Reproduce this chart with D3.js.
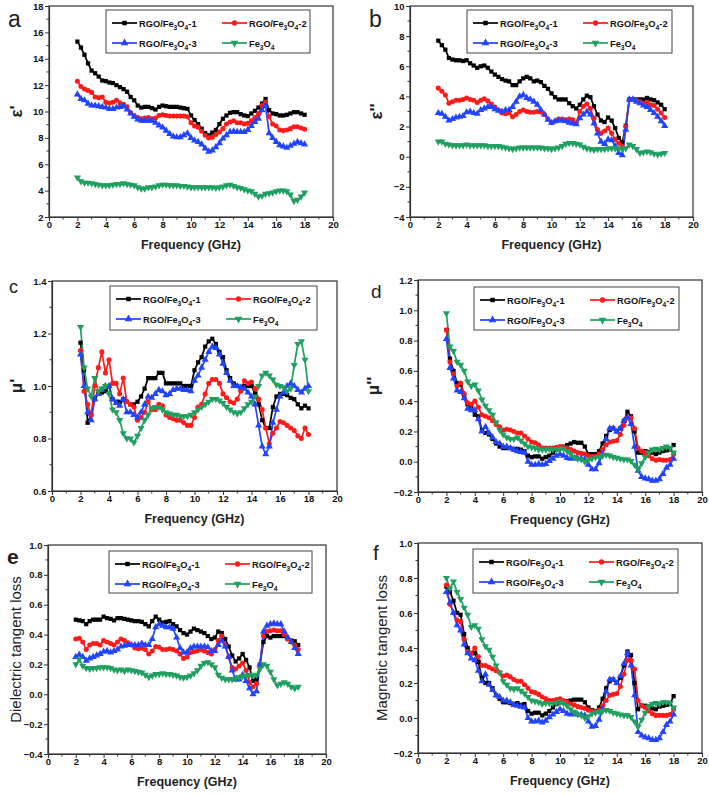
<!DOCTYPE html>
<html><head><meta charset="utf-8">
<script src="https://cdn.jsdelivr.net/npm/d3@7"></script>
<style>
html,body{margin:0;padding:0;background:#fff;}
svg text{font-family:"Liberation Sans",Arial,sans-serif;}
</style></head>
<body><svg id="c" width="709" height="795"></svg>
<script>
const freq = [2,2.25,2.5,2.75,3,3.25,3.5,3.75,4,4.25,4.5,4.75,5,5.25,5.5,5.75,6,6.25,6.5,6.75,7,7.25,7.5,7.75,8,8.25,8.5,8.75,9,9.25,9.5,9.75,10,10.25,10.5,10.75,11,11.25,11.5,11.75,12,12.25,12.5,12.75,13,13.25,13.5,13.75,14,14.25,14.5,14.75,15,15.25,15.5,15.75,16,16.25,16.5,16.75,17,17.25,17.5,17.75,18];
const seriesNames = ["RGO/Fe3O4-1","RGO/Fe3O4-2","RGO/Fe3O4-3","Fe3O4"];
const xTicks = [0,2,4,6,8,10,12,14,16,18,20];

// (a) epsilon'
const aR1 = [15.3,14.85,14.3,13.65, 13.1,12.9,12.65,12.35, 12.3,12.2,12.15,12.0, 11.85,11.7,11.5,11.1, 10.85,10.45,10.3,10.35, 10.35,10.25,10.15,10.35, 10.45,10.4,10.35,10.35, 10.35,10.3,10.25,10.2, 9.7,9.35,9.05,8.7, 8.35,8.2,8.4,8.6, 9.05,9.45,9.7,9.9, 9.95,9.95,9.8,9.7, 9.65,9.85,10.05,10.3, 10.6,10.95,10.1,9.85, 9.8,9.7,9.7,9.75, 9.85,9.95,9.95,9.85, 9.75];
const aR2 = [12.3,11.9,11.7,11.6, 11.45,11.1,11.05,11.1, 10.7,10.65,10.7,10.85, 10.65,10.55,10.35,9.9, 9.7,9.55,9.45,9.5, 9.55,9.45,9.5,9.7, 9.75,9.7,9.65,9.65, 9.65,9.65,9.65,9.6, 9.15,8.9,8.8,8.5, 8.2,8.0,8.05,8.25, 8.45,8.7,9.05,9.2, 9.3,9.15,9.15,9.05, 9.1,9.3,9.55,9.85, 10.45,10.7,9.6,9.05, 8.9,8.6,8.55,8.6, 8.7,8.85,8.85,8.75, 8.65];
const aR3 = [11.3,10.95,10.85,10.6, 10.45,10.45,10.4,10.35, 10.3,10.2,10.2,10.3, 10.35,10.4,10.15,9.85, 9.6,9.4,9.3,9.3, 9.3,9.3,9.15,8.95, 8.8,8.55,8.3,8.1, 8.05,8.05,8.2,8.35, 8.0,7.8,7.7,7.5, 7.2,6.95,7.05,7.3, 7.6,7.95,8.2,8.45, 8.5,8.45,8.45,8.45, 8.6,8.9,9.2,9.45, 10.1,10.45,8.35,8.0, 7.7,7.45,7.35,7.25, 7.4,7.55,7.7,7.6, 7.5];
const aFe = [5.0,4.7,4.6,4.6, 4.55,4.5,4.45,4.4, 4.4,4.4,4.45,4.5, 4.5,4.55,4.5,4.45, 4.4,4.25,4.15,4.15, 4.25,4.25,4.3,4.4, 4.45,4.45,4.4,4.4, 4.4,4.35,4.35,4.3, 4.25,4.25,4.25,4.25, 4.25,4.25,4.25,4.2, 4.25,4.3,4.4,4.45, 4.35,4.25,4.2,4.1, 4.0,3.95,3.75,3.55, 3.6,3.75,3.8,3.85, 3.95,4.0,4.0,3.95, 3.7,3.2,3.3,3.55, 3.85];

// (b) epsilon''
const bR1 = [7.7,7.4,7.1,6.55, 6.45,6.4,6.4,6.35, 6.4,6.2,6.05,5.9, 6.0,6.05,5.9,5.65, 5.45,5.3,5.15,5.05, 5.0,4.75,4.75,5.0, 5.2,5.3,5.2,5.0, 5.05,4.95,4.7,4.5, 4.2,3.95,3.8,3.8, 3.8,3.55,3.35,3.2, 3.45,3.8,4.05,3.95, 3.35,2.8,2.4,2.3, 2.6,2.4,1.9,1.25, 0.95,2.05,3.8,3.8, 3.8,3.8,3.8,3.9, 3.8,3.75,3.6,3.45, 3.15];
const bR2 = [4.55,4.35,4.1,3.55, 3.65,3.75,3.75,3.8, 3.9,3.8,3.75,3.6, 3.75,3.85,3.7,3.5, 3.3,3.1,2.9,2.85, 2.9,2.65,2.8,3.0, 3.1,3.0,2.95,2.95, 3.0,2.95,2.8,2.5, 2.25,2.35,2.5,2.5, 2.45,2.5,2.45,2.25, 3.0,3.35,3.5,3.2, 2.55,1.8,1.55,1.7, 1.9,1.55,1.15,0.9, 0.7,2.0,3.8,3.8, 3.75,3.65,3.55,3.6, 3.45,3.4,3.15,2.9, 2.6];
const bR3 = [2.9,2.85,2.65,2.4, 2.5,2.6,2.65,2.7, 2.95,3.0,2.9,2.85, 3.1,3.2,3.3,3.3, 3.15,3.05,3.0,3.1, 3.1,3.3,3.65,4.0, 4.1,3.9,3.8,3.65, 3.45,3.1,2.8,2.45, 2.25,2.35,2.4,2.4, 2.35,2.25,2.2,2.15, 2.55,2.8,3.0,2.8, 2.2,1.55,1.0,0.85, 1.15,1.1,0.7,0.25, 0.1,1.8,3.8,3.8, 3.65,3.55,3.4,3.3, 3.1,2.9,2.65,2.35, 2.05];
const bFe = [1.0,1.0,0.85,0.8, 0.75,0.75,0.75,0.75, 0.8,0.75,0.75,0.75, 0.75,0.75,0.7,0.7, 0.7,0.7,0.65,0.6, 0.55,0.5,0.55,0.6, 0.6,0.6,0.6,0.6, 0.6,0.6,0.55,0.55, 0.5,0.55,0.6,0.7, 0.85,0.9,0.9,0.85, 0.8,0.65,0.55,0.5, 0.45,0.5,0.5,0.5, 0.55,0.55,0.55,0.55, 0.5,0.55,0.8,0.7, 0.5,0.25,0.3,0.35, 0.3,0.2,0.15,0.2, 0.25];

// (c) mu'
const cR1 = [1.165,1.06,0.86,0.89, 0.95,0.97,0.975,0.98, 1.0,0.95,0.94,0.94, 0.95,0.94,0.93,0.93, 0.94,0.96,0.99,1.03, 1.03,1.03,1.05,1.05, 1.01,1.01,1.01,1.01, 1.01,1.0,1.0,1.0, 1.06,1.09,1.11,1.15, 1.17,1.18,1.16,1.13, 1.11,1.06,1.03,1.01, 1.0,0.99,1.0,1.0, 1.0,0.97,0.93,0.87, 0.84,0.84,0.92,0.96, 0.97,0.97,0.965,0.955, 0.95,0.93,0.915,0.925, 0.915];
const cR2 = [1.135,0.98,0.93,0.89, 1.0,1.07,1.13,1.05, 1.1,1.01,1.01,0.97, 1.03,0.94,0.93,0.92, 0.87,0.88,0.9,0.94, 0.91,0.91,0.93,0.925, 0.89,0.88,0.875,0.87, 0.87,0.86,0.85,0.85, 0.88,0.92,0.93,0.97, 1.01,1.025,1.025,1.01, 0.97,0.955,0.94,0.935, 0.95,0.98,1.02,1.01, 1.015,0.99,0.95,0.91, 0.84,0.78,0.82,0.84, 0.865,0.86,0.85,0.84, 0.83,0.81,0.8,0.84, 0.815];
const cR3 = [1.12,1.0,0.9,0.87, 0.95,0.97,0.985,1.0, 1.0,0.95,0.935,0.925, 0.95,0.9,0.9,0.89, 0.88,0.9,0.93,0.96, 0.955,0.97,0.985,0.98, 0.965,0.97,0.985,0.99, 0.99,0.985,0.985,0.98, 1.02,1.04,1.07,1.1, 1.13,1.15,1.145,1.12, 1.085,1.05,1.02,1.0, 1.0,0.995,0.99,0.975, 0.96,0.93,0.85,0.77, 0.74,0.77,0.86,0.91, 0.96,0.975,1.0,1.01, 1.0,0.985,0.975,0.99, 1.0];
const cFe = [1.225,1.07,0.99,0.96, 1.03,0.98,0.99,1.0, 0.97,0.91,0.9,0.87, 0.82,0.8,0.8,0.785, 0.81,0.84,0.87,0.89, 0.915,0.92,0.92,0.91, 0.9,0.895,0.89,0.89, 0.885,0.885,0.885,0.89, 0.9,0.91,0.92,0.93, 0.94,0.95,0.95,0.945, 0.935,0.92,0.91,0.9, 0.895,0.9,0.915,0.93, 0.94,0.96,1.0,1.04, 1.05,1.04,1.025,1.005, 1.0,0.995,0.98,0.99, 1.08,1.16,1.17,1.1, 0.98];

// (d) mu''
const dR1 = [0.87,0.68,0.6,0.52, 0.51,0.44,0.38,0.36, 0.31,0.3,0.21,0.19, 0.18,0.15,0.12,0.1, 0.09,0.09,0.09,0.08, 0.085,0.08,0.07,0.04, 0.03,0.035,0.035,0.02, 0.03,0.04,0.06,0.08, 0.09,0.1,0.11,0.12, 0.13,0.125,0.125,0.1, 0.05,0.05,0.05,0.07, 0.12,0.17,0.21,0.22, 0.2,0.22,0.27,0.33, 0.3,0.2,0.06,0.06, 0.07,0.065,0.06,0.05, 0.06,0.07,0.075,0.08, 0.11];
const dR2 = [0.87,0.66,0.58,0.5, 0.52,0.45,0.39,0.38, 0.4,0.36,0.31,0.3, 0.29,0.27,0.245,0.23, 0.21,0.215,0.21,0.2, 0.19,0.19,0.17,0.15, 0.13,0.125,0.11,0.09, 0.09,0.09,0.09,0.095, 0.1,0.095,0.09,0.08, 0.07,0.06,0.055,0.05, 0.04,0.035,0.035,0.05, 0.08,0.11,0.13,0.135, 0.14,0.18,0.24,0.29, 0.29,0.22,0.09,0.07, 0.06,0.04,0.02,0.01, 0.015,0.01,0.01,0.015, 0.05];
const dR3 = [0.81,0.62,0.55,0.47, 0.46,0.42,0.35,0.34, 0.34,0.28,0.2,0.23, 0.19,0.16,0.13,0.12, 0.1,0.1,0.09,0.08, 0.07,0.065,0.06,0.0, -0.02,-0.02,-0.015,-0.02, -0.015,0.005,0.02,0.04, 0.05,0.04,0.025,0.02, 0.025,0.02,0.02,0.015, -0.02,-0.05,-0.05,-0.01, 0.05,0.15,0.22,0.22, 0.2,0.22,0.27,0.29, 0.25,0.1,-0.06,-0.1, -0.11,-0.115,-0.125,-0.125, -0.115,-0.08,-0.04,-0.02, 0.02];
const dFe = [0.98,0.76,0.73,0.66, 0.64,0.6,0.53,0.5, 0.51,0.47,0.41,0.37, 0.34,0.31,0.26,0.21, 0.18,0.16,0.15,0.15, 0.16,0.14,0.12,0.1, 0.095,0.09,0.08,0.08, 0.08,0.085,0.08,0.08, 0.085,0.085,0.07,0.05, 0.03,0.02,0.015,0.0, 0.01,0.02,0.03,0.03, 0.04,0.045,0.04,0.03, 0.025,0.02,0.015,0.015, 0.005,-0.02,-0.05,-0.01, 0.03,0.06,0.08,0.085, 0.08,0.09,0.1,0.09, 0.06];

// (e) dielectric tangent loss
const eR1 = [0.5,0.495,0.49,0.47, 0.49,0.5,0.5,0.5, 0.52,0.51,0.505,0.495, 0.51,0.51,0.505,0.5, 0.495,0.49,0.49,0.485, 0.47,0.455,0.49,0.52, 0.5,0.48,0.485,0.49, 0.47,0.455,0.43,0.41, 0.4,0.42,0.44,0.43, 0.42,0.41,0.39,0.37, 0.38,0.42,0.41,0.37, 0.32,0.26,0.22,0.24, 0.27,0.23,0.18,0.09, 0.1,0.2,0.35,0.39, 0.38,0.39,0.39,0.39, 0.39,0.37,0.36,0.355, 0.33];
const eR2 = [0.37,0.375,0.35,0.3, 0.33,0.34,0.34,0.33, 0.36,0.35,0.34,0.33, 0.35,0.37,0.36,0.345, 0.33,0.31,0.305,0.31, 0.3,0.27,0.29,0.32, 0.315,0.3,0.3,0.305, 0.3,0.29,0.27,0.24, 0.25,0.28,0.285,0.29, 0.3,0.29,0.28,0.27, 0.3,0.36,0.39,0.33, 0.25,0.18,0.17,0.19, 0.21,0.16,0.08,0.05, 0.07,0.2,0.39,0.42, 0.425,0.43,0.425,0.425, 0.4,0.37,0.35,0.33, 0.3];
const eR3 = [0.25,0.265,0.25,0.225, 0.24,0.25,0.26,0.27, 0.285,0.29,0.28,0.29, 0.3,0.32,0.325,0.33, 0.33,0.33,0.33,0.34, 0.33,0.33,0.37,0.45, 0.47,0.46,0.45,0.45, 0.44,0.38,0.31,0.28, 0.28,0.31,0.32,0.32, 0.32,0.32,0.315,0.29, 0.29,0.33,0.36,0.32, 0.25,0.16,0.1,0.1, 0.13,0.09,0.04,0.0, 0.02,0.2,0.42,0.46, 0.47,0.475,0.47,0.47, 0.42,0.38,0.35,0.31, 0.27];
const eFe = [0.2,0.235,0.19,0.175, 0.17,0.175,0.175,0.18, 0.18,0.18,0.175,0.165, 0.16,0.165,0.155,0.165, 0.16,0.155,0.15,0.145, 0.13,0.115,0.125,0.135, 0.135,0.14,0.135,0.135, 0.13,0.125,0.115,0.11, 0.115,0.125,0.14,0.16, 0.19,0.21,0.215,0.2, 0.18,0.13,0.11,0.1, 0.1,0.1,0.105,0.115, 0.12,0.125,0.13,0.125, 0.13,0.17,0.2,0.19, 0.15,0.1,0.06,0.07, 0.08,0.07,0.05,0.04, 0.05];

// (f) magnetic tangent loss
const fR1 = [0.75,0.72,0.67,0.6, 0.59,0.48,0.4,0.37, 0.37,0.32,0.23,0.2, 0.2,0.17,0.13,0.11, 0.09,0.09,0.085,0.08, 0.085,0.075,0.08,0.04, 0.025,0.03,0.03,0.015, 0.025,0.04,0.06,0.08, 0.09,0.09,0.095,0.1, 0.105,0.105,0.105,0.09, 0.06,0.045,0.04,0.06, 0.11,0.17,0.21,0.22, 0.2,0.23,0.3,0.38, 0.36,0.2,0.05,0.07, 0.07,0.065,0.055,0.05, 0.065,0.07,0.075,0.08, 0.125];
const fR2 = [0.76,0.65,0.6,0.56, 0.55,0.45,0.38,0.37, 0.4,0.35,0.3,0.3, 0.29,0.28,0.27,0.26, 0.24,0.245,0.235,0.22, 0.21,0.21,0.19,0.17, 0.15,0.145,0.135,0.12, 0.11,0.1,0.1,0.105, 0.11,0.1,0.09,0.08, 0.075,0.065,0.06,0.055, 0.045,0.04,0.035,0.045, 0.07,0.1,0.13,0.135, 0.14,0.18,0.25,0.33, 0.33,0.28,0.1,0.07, 0.06,0.04,0.025,0.015, 0.015,0.015,0.015,0.02, 0.05];
const fR3 = [0.72,0.66,0.6,0.53, 0.5,0.42,0.37,0.34, 0.33,0.27,0.21,0.25, 0.19,0.16,0.13,0.12, 0.1,0.1,0.09,0.075, 0.07,0.065,0.06,0.0, -0.02,-0.02,-0.015,-0.025, -0.015,0.005,0.02,0.035, 0.05,0.04,0.025,0.02, 0.025,0.02,0.02,0.015, -0.02,-0.05,-0.045,-0.01, 0.05,0.15,0.22,0.22, 0.2,0.24,0.31,0.37, 0.3,0.13,-0.08,-0.1, -0.11,-0.115,-0.125,-0.125, -0.115,-0.08,-0.04,-0.02, 0.02];
const fFe = [0.8,0.74,0.78,0.72, 0.68,0.63,0.59,0.52, 0.53,0.51,0.45,0.41, 0.39,0.35,0.3,0.26, 0.21,0.19,0.17,0.165, 0.17,0.155,0.14,0.12, 0.1,0.095,0.09,0.08, 0.085,0.085,0.085,0.085, 0.09,0.085,0.07,0.05, 0.035,0.02,0.015,0.0, 0.01,0.025,0.03,0.035, 0.04,0.045,0.04,0.03, 0.025,0.02,0.015,0.015, 0.005,-0.02,-0.05,-0.01, 0.03,0.065,0.08,0.085, 0.08,0.09,0.09,0.085, 0.06];

const colors = ["#000000","#ff1a1a","#2244ff","#1fa060"];
const symbols = [d3.symbolSquare, d3.symbolCircle, d3.symbolTriangle, "down"];

const panels = [
  {letter:"a", lx:8, ly:27, lsize:23, x0:49, x1:333, y0:6, y1:217, ydom:[2,18], yticks:[2,4,6,8,10,12,14,16,18], fmt:d3.format("d"), data:[aR1,aR2,aR3,aFe], leg:[106,10,204,43], yt:"ε'", ytx:16, yts:17, ytb:true},
  {letter:"b", lx:369, ly:27, lsize:23, x0:410, x1:693, y0:6, y1:217, ydom:[-4,10], yticks:[-4,-2,0,2,4,6,8,10], fmt:d3.format("d"), data:[bR1,bR2,bR3,bFe], leg:[467,10,205,43], yt:"ε''", ytx:376, yts:17, ytb:true},
  {letter:"c", lx:9, ly:293, lsize:18, x0:52, x1:337, y0:281, y1:491, ydom:[0.6,1.4], yticks:[0.6,0.8,1.0,1.2,1.4], fmt:d3.format(".1f"), data:[cR1,cR2,cR3,cFe], leg:[110,286,207,44], yt:"μ'", ytx:16, yts:17, ytb:true},
  {letter:"d", lx:371, ly:298, lsize:19, x0:418, x1:702, y0:280, y1:492, ydom:[-0.2,1.2], yticks:[-0.2,0,0.2,0.4,0.6,0.8,1.0,1.2], fmt:d3.format(".1f"), data:[dR1,dR2,dR3,dFe], leg:[474,287,205,43], yt:"μ''", ytx:373, yts:17, ytb:true},
  {letter:"e", lx:7, ly:564, lsize:21, x0:48, x1:326, y0:545, y1:754, ydom:[-0.4,1.0], yticks:[-0.4,-0.2,0,0.2,0.4,0.6,0.8,1.0], fmt:d3.format(".1f"), data:[eR1,eR2,eR3,eFe], leg:[109,551,203,42], yt:"Dielectric tangent loss", ytx:15, yts:15, ytb:false, lbold:true},
  {letter:"f", lx:373, ly:560, lsize:21, x0:418, x1:702, y0:543, y1:753, ydom:[-0.2,1.0], yticks:[-0.2,0,0.2,0.4,0.6,0.8,1.0], fmt:d3.format(".1f"), data:[fR1,fR2,fR3,fFe], leg:[473,549,205,44], yt:"Magnetic tangent loss", ytx:381, yts:15, ytb:false}
];

const svg = d3.select("#c");
const axisColor = "#333";

function symPath(i, size){
  if (symbols[i] === "down") return d3.symbol().type(d3.symbolTriangle).size(size)();
  return d3.symbol().type(symbols[i]).size(size)();
}
function symTransform(i, x, y){
  return symbols[i] === "down" ? `translate(${x},${y}) rotate(180)` : `translate(${x},${y})`;
}
function labelText(sel, name, fs){
  const parts = [];
  if (name.startsWith("RGO/")) { parts.push(["RGO/Fe",0]); } else { parts.push(["Fe",0]); }
  parts.push(["3",1]); parts.push(["O",-1]); parts.push(["4",1]);
  const m = name.match(/-(\d)$/);
  if (m) parts.push(["-"+m[1],-1]);
  parts.forEach(([t,sub])=>{
    const ts = sel.append("tspan").text(t);
    if (sub===1) ts.attr("font-size", fs*0.72).attr("dy", 3);
    else if (sub===-1) ts.attr("dy", -3);
  });
}

panels.forEach(p=>{
  const g = svg.append("g");
  const x = d3.scaleLinear().domain([0,20]).range([p.x0,p.x1]);
  const y = d3.scaleLinear().domain(p.ydom).range([p.y1,p.y0]);

  g.append("rect").attr("x",p.x0).attr("y",p.y0).attr("width",p.x1-p.x0).attr("height",p.y1-p.y0)
    .attr("fill","none").attr("stroke",axisColor).attr("stroke-width",1.2);

  const xa = d3.axisBottom(x).tickValues(xTicks).tickSize(4).tickFormat(d3.format("d"));
  const gx = g.append("g").attr("transform",`translate(0,${p.y1})`).call(xa);
  gx.select(".domain").attr("stroke",axisColor).attr("stroke-width",1.2);
  gx.selectAll(".tick line").attr("stroke",axisColor).attr("stroke-width",1);
  gx.selectAll(".tick text").attr("font-size",9.5).attr("font-weight","bold").attr("fill","#111").attr("dy","0.6em").attr("y",5);
  const xMinor = d3.range(1,20,2);
  g.selectAll(null).data(xMinor).enter().append("line")
    .attr("x1",d=>x(d)).attr("x2",d=>x(d)).attr("y1",p.y1).attr("y2",p.y1+2.5)
    .attr("stroke",axisColor).attr("stroke-width",1);

  const ya = d3.axisLeft(y).tickValues(p.yticks).tickSize(4).tickFormat(p.fmt);
  const gy = g.append("g").attr("transform",`translate(${p.x0},0)`).call(ya);
  gy.select(".domain").attr("stroke",axisColor).attr("stroke-width",1.2);
  gy.selectAll(".tick line").attr("stroke",axisColor).attr("stroke-width",1);
  gy.selectAll(".tick text").attr("font-size",9.5).attr("font-weight","bold").attr("fill","#111").attr("x",-5.5);
  const st = p.yticks[1]-p.yticks[0];
  const yMinor = p.yticks.slice(0,-1).map(v=>v+st/2);
  g.selectAll(null).data(yMinor).enter().append("line")
    .attr("x1",p.x0-2.5).attr("x2",p.x0).attr("y1",d=>y(d)).attr("y2",d=>y(d))
    .attr("stroke",axisColor).attr("stroke-width",1);

  g.append("text").attr("x",(p.x0+p.x1)/2).attr("y",p.y1+32).attr("text-anchor","middle")
    .attr("font-size",12.5).attr("font-weight","bold").attr("fill","#222").text("Frequency (GHz)");
  const yc = (p.y0+p.y1)/2;
  g.append("text").attr("transform",`translate(${p.ytx},${yc}) rotate(-90)`)
    .attr("text-anchor","middle").attr("dominant-baseline","central")
    .attr("font-size",p.yts).attr("font-weight",p.ytb?"bold":"normal").attr("fill","#222").text(p.yt);

  g.append("text").attr("x",p.lx).attr("y",p.ly).attr("font-size",p.lsize)
    .attr("font-weight",p.lbold?"bold":"normal").attr("fill","#222").text(p.letter);

  const line = d3.line().x((d,i)=>x(freq[i])).y(d=>y(d));
  p.data.forEach((arr,si)=>{
    g.append("path").datum(arr).attr("d",line).attr("fill","none")
      .attr("stroke",colors[si]).attr("stroke-width",1.7).attr("stroke-linejoin","round");
  });
  p.data.forEach((arr,si)=>{
    g.selectAll(null).data(arr).enter().append("path")
      .attr("d",symPath(si, si===1?20:(si===0?18:22)))
      .attr("transform",(d,i)=>symTransform(si,x(freq[i]),y(d)))
      .attr("fill",colors[si]);
  });

  const [lx,ly,lw,lh] = p.leg;
  const lg = g.append("g");
  lg.append("rect").attr("x",lx).attr("y",ly).attr("width",lw).attr("height",lh)
    .attr("fill","#fff").attr("stroke","#444").attr("stroke-width",1);
  const pos = [[6,13],[116,13],[6,33],[116,33]];
  seriesNames.forEach((nm,si)=>{
    const [ox,oy] = pos[si];
    const x1 = lx+ox, yy = ly+oy;
    lg.append("line").attr("x1",x1).attr("x2",x1+25).attr("y1",yy).attr("y2",yy)
      .attr("stroke",colors[si]).attr("stroke-width",1.7);
    lg.append("path").attr("d",symPath(si, si===1?22:(si===0?20:26)))
      .attr("transform",symTransform(si,x1+12.5,yy)).attr("fill",colors[si]);
    const t = lg.append("text").attr("x",x1+27).attr("y",yy+3.5).attr("font-size",9.3)
      .attr("font-weight","bold").attr("fill","#111");
    labelText(t, nm, 9.3);
  });
});
</script>
</body></html>
